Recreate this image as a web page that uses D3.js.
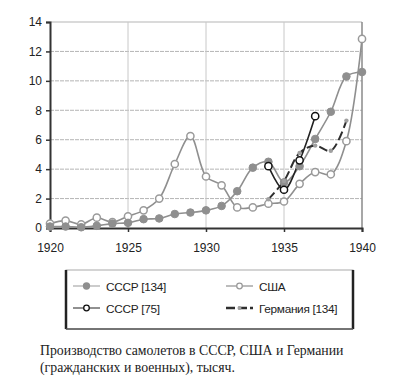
<!DOCTYPE html>
<html><head><meta charset="utf-8">
<script src="https://cdn.jsdelivr.net/npm/d3@7/dist/d3.min.js"></script>
<style>body{margin:0;background:#fff}svg{display:block}</style>
</head><body>
<script>
const years = d3.range(1920, 1941);
const ussr134 = [0.1,0.1,0.05,0.15,0.3,0.35,0.6,0.65,0.95,1.05,1.2,1.5,2.5,4.1,4.5,3.1,4.2,6.05,7.9,10.3,10.6];
const usa = [0.3,0.5,0.25,0.7,0.4,0.8,1.2,2.0,4.35,6.25,3.5,2.9,1.4,1.4,1.65,1.8,3.0,3.8,3.65,5.9,12.85];
const ussr75Years = [1934,1935,1936,1937];
const ussr75 = [4.2,2.6,4.6,7.6];
const germanyYears = [1934,1935,1936,1937,1938,1939];
const germany = [1.95,3.2,5.1,5.6,5.25,7.3];
const xTicks = [1920,1925,1930,1935,1940];
const yTicks = [0,2,4,6,8,10,12,14];
const caption = ["Производство самолетов  в СССР, США и Германии","(гражданских и военных), тысяч."];

const W=413,H=384;
const svg=d3.select("body").append("svg").attr("width",W).attr("height",H);
const m={l:50,r:362,t:22,b:228};
const x=d3.scaleLinear().domain([1920,1940]).range([m.l,m.r]);
const y=d3.scaleLinear().domain([0,14]).range([m.b,m.t]);

// grid
const g=svg.append("g");
g.selectAll(".hg").data(yTicks.filter(d=>d>0)).join("line")
 .attr("x1",m.l).attr("x2",m.r).attr("y1",d=>y(d)).attr("y2",d=>y(d))
 .attr("stroke","#b5b5b5").attr("stroke-width",1).attr("stroke-dasharray",d=>d===14?null:"4,1");
g.selectAll(".vg").data(xTicks.filter(d=>d>1920)).join("line")
 .attr("x1",d=>x(d)).attr("x2",d=>x(d)).attr("y1",m.t).attr("y2",m.b)
 .attr("stroke",d=>d===1940?"#8a8a8a":"#c8c8c8").attr("stroke-width",d=>d===1940?1.5:1);

// axes
const font="'Liberation Sans', Arial, sans-serif";
const xa=svg.append("g").attr("transform",`translate(0,${m.b})`)
 .call(d3.axisBottom(x).tickValues(xTicks).tickFormat(d3.format("d")).tickSize(4).tickPadding(11));
const ya=svg.append("g").attr("transform",`translate(${m.l},0)`)
 .call(d3.axisLeft(y).tickValues(yTicks).tickSize(4).tickPadding(4));
[xa,ya].forEach(a=>{a.select(".domain").attr("stroke","#333").attr("stroke-width",2);
 a.selectAll(".tick line").attr("stroke","#333").attr("stroke-width",1.5);
 a.selectAll("text").attr("font-family",font).attr("font-size",12).attr("fill","#222");});

const curve=d3.curveCatmullRom.alpha(0.5);
const line=(xs,ys)=>d3.line().curve(curve)(xs.map((d,i)=>[x(d),y(ys[i])]));

svg.append("path").attr("d",line(years,usa)).attr("fill","none").attr("stroke","#8f8f8f").attr("stroke-width",1.6);
svg.append("path").attr("d",line(years,ussr134)).attr("fill","none").attr("stroke","#8f8f8f").attr("stroke-width",1.6);
svg.append("path").attr("d",line(germanyYears,germany)).attr("fill","none").attr("stroke","#2e2e2e").attr("stroke-width",2).attr("stroke-dasharray","9,4");
svg.append("path").attr("d",line(ussr75Years,ussr75)).attr("fill","none").attr("stroke","#222").attr("stroke-width",1.6);

svg.append("g").selectAll("circle").data(years).join("circle")
 .attr("cx",d=>x(d)).attr("cy",(d,i)=>y(usa[i])).attr("r",3.6)
 .attr("fill","#fff").attr("stroke","#9a9a9a").attr("stroke-width",1.5);
svg.append("g").selectAll("circle").data(years).join("circle")
 .attr("cx",d=>x(d)).attr("cy",(d,i)=>y(ussr134[i])).attr("r",3.8)
 .attr("fill","#8f8f8f").attr("stroke","#8f8f8f");
svg.append("g").selectAll("circle").data(germanyYears).join("circle")
 .attr("cx",d=>x(d)).attr("cy",(d,i)=>y(germany[i])).attr("r",2.2)
 .attr("fill","#a0a0a0");
svg.append("g").selectAll("circle").data(ussr75Years).join("circle")
 .attr("cx",d=>x(d)).attr("cy",(d,i)=>y(ussr75[i])).attr("r",3.6)
 .attr("fill","#fff").attr("stroke","#111").attr("stroke-width",1.5);

// legend
const lg=svg.append("g");
lg.append("rect").attr("x",66).attr("y",270).attr("width",287).attr("height",59)
 .attr("fill","#fff").attr("stroke","#aaa").attr("stroke-width",1);
lg.append("line").attr("x1",66).attr("x2",66).attr("y1",270).attr("y2",329).attr("stroke","#222").attr("stroke-width",2.5);
lg.append("line").attr("x1",353).attr("x2",353).attr("y1",270).attr("y2",329).attr("stroke","#222").attr("stroke-width",2.5);
lg.append("line").attr("x1",66).attr("x2",353).attr("y1",329).attr("y2",329).attr("stroke","#555").attr("stroke-width",1.5);
const items=[
 {t:"СССР [134]",x:73,y:286,c:"#999",mf:"#8f8f8f",ms:"#8f8f8f",r:3,w:1,dash:null},
 {t:"СССР [75]",x:73,y:308,c:"#222",mf:"#fff",ms:"#111",r:2.8,w:1,dash:null},
 {t:"США",x:226,y:286,c:"#8f8f8f",mf:"#fff",ms:"#9a9a9a",r:2.8,w:1.2,dash:null},
 {t:"Германия [134]",x:226,y:308,c:"#2e2e2e",mf:"#a0a0a0",ms:"none",r:2,w:2.5,dash:"9,3"}];
items.forEach(it=>{
 lg.append("line").attr("x1",it.x).attr("x2",it.x+27).attr("y1",it.y).attr("y2",it.y)
  .attr("stroke",it.c).attr("stroke-width",it.w).attr("stroke-dasharray",it.dash);
 lg.append("circle").attr("cx",it.x+13.5).attr("cy",it.y).attr("r",it.r).attr("fill",it.mf).attr("stroke",it.ms).attr("stroke-width",1.3);
 lg.append("text").attr("x",it.x+33).attr("y",it.y+4.5).text(it.t)
  .attr("font-family",font).attr("font-size",11.8).attr("fill","#222").attr("letter-spacing",-0.3);
});

svg.append("g").selectAll("text").data(caption).join("text")
 .attr("x",40).attr("y",(d,i)=>355+i*17).text(d=>d)
 .attr("font-family","'Liberation Serif', 'Times New Roman', serif").attr("font-size",13.8).attr("fill","#222");
</script>
</body></html>
